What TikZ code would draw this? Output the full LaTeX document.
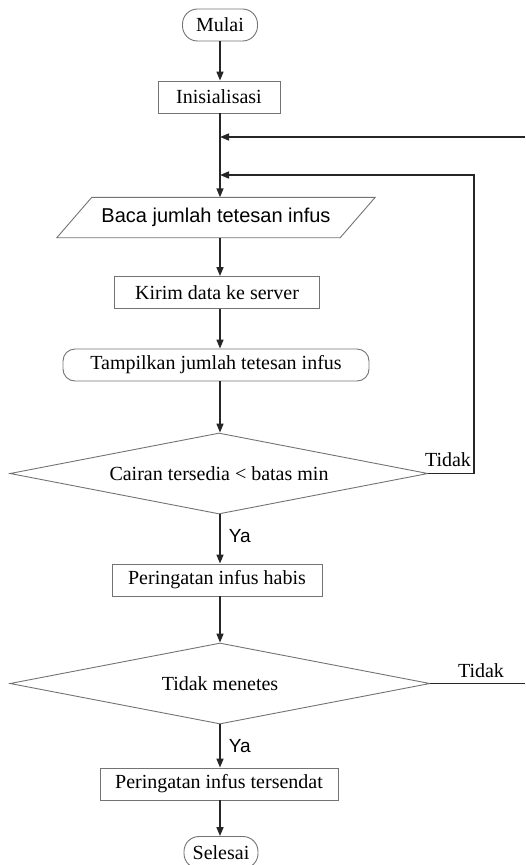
\documentclass[tikz,border=0pt]{standalone}
\usepackage{fontspec}
\setmainfont{Liberation Serif}
\setsansfont{Liberation Sans}
\usepackage{tikz}
\usetikzlibrary{positioning}
\usetikzlibrary{shapes.geometric}
\usetikzlibrary{arrows.meta}

\begin{document}
\begin{tikzpicture}
  [
    x=1pt, y=-1pt,
    >={Triangle[length=9pt,width=7pt]},
    every node/.style={
       font=\fontsize{20}{24}\selectfont,
       inner sep=0pt
    },
    term/.style={
       draw=black!55,
       line width=0.9pt,
       rounded corners=15pt,
       minimum height=32pt
    },
    proc/.style={
       draw=black!55,
       line width=0.9pt,
       rectangle,
       minimum height=32pt
    },
    io/.style={
       rectangle,
       minimum height=40pt,
       font=\sffamily\fontsize{20}{24}\selectfont
    },
    iobox/.style={
       draw=black!55,
       line width=0.9pt
    },
    dec/.style={
       draw=black!55,
       line width=0.9pt,
       diamond,
       aspect=5.2,
       minimum height=81pt
    },
    ln/.style={
       draw=black!85,
       line width=1.6pt
    },
    ya/.style={
       anchor=west,
       font=\sffamily\fontsize{19}{22}\selectfont
    }
  ]
  \useasboundingbox (0,0) rectangle (525,865);

  \node (mulai)   at (220, 25.0) [term, minimum width=75pt]  {Mulai};
  \node (init)    at (219, 97.0) [proc, minimum width=122pt] {Inisialisasi};
  \node (baca)    at (216,217.5) [io,   minimum width=318pt] {Baca jumlah tetesan infus};
  \node (kirim)   at (217,292.5) [proc, minimum width=205pt] {Kirim data ke server};
  \node (tampil)  at (216,365.0) [term, minimum width=306pt, rounded corners=12pt] {Tampilkan jumlah tetesan infus};
  \node (cek1)    at (219,473.5) [dec,  minimum width=418pt] {Cairan tersedia < batas min};
  \node (habis)   at (217,580.0) [proc, minimum width=210pt] {Peringatan infus habis};
  \node (cek2)    at (220,683.5) [dec,  minimum width=420pt] {Tidak menetes};
  \node (sendat)  at (219,784.0) [proc, minimum width=238pt] {Peringatan infus tersendat};
  \node (selesai) at (221,852.5) [term, minimum width=74pt]  {Selesai};

  \draw [iobox] (baca.south west) -- ([xshift=35pt]baca.north west)
        -- (baca.north east) -- ([xshift=-35pt]baca.south east) -- cycle;

  \coordinate (m1) at (220,137);
  \coordinate (m2) at (220,175);
  \coordinate (e1) at (525,137);
  \coordinate (r2) at (474,175);
  \coordinate (e2) at (525,683.5);

  \draw [ln, ->] (mulai.south) -- (mulai.south |- init.north);
  \draw [ln, ->] (m1 |- init.south) -- (m1 |- baca.north);
  \draw [ln, ->] (m1 |- baca.south) -- (m1 |- kirim.north);
  \draw [ln, ->] (m1 |- kirim.south) -- (m1 |- tampil.north);
  \draw [ln, ->] (m1 |- tampil.south) -- (m1 |- cek1.north);
  \draw [ln, ->] (m1 |- cek1.south) -- (m1 |- habis.north)
        node [ya, pos=0.45, xshift=8pt] (ya1) {Ya};
  \draw [ln, ->] (m1 |- habis.south) -- (m1 |- cek2.north);
  \draw [ln, ->] (m1 |- cek2.south) -- (m1 |- sendat.north)
        node [ya, pos=0.5, xshift=8pt] (ya2) {Ya};
  \draw [ln, ->] (m1 |- sendat.south) -- (m1 |- selesai.north);

  \draw [ln, ->] (e1) -- (m1);
  \draw [ln, ->] (cek1.east) -| (r2) -- (m2);
  \draw [ln] (cek2.east) -- (e2);

  \node (tidak1) at (448,466) [anchor=base] {Tidak};
  \node (tidak2) at (481,677) [anchor=base] {Tidak};
\end{tikzpicture}
\end{document}
